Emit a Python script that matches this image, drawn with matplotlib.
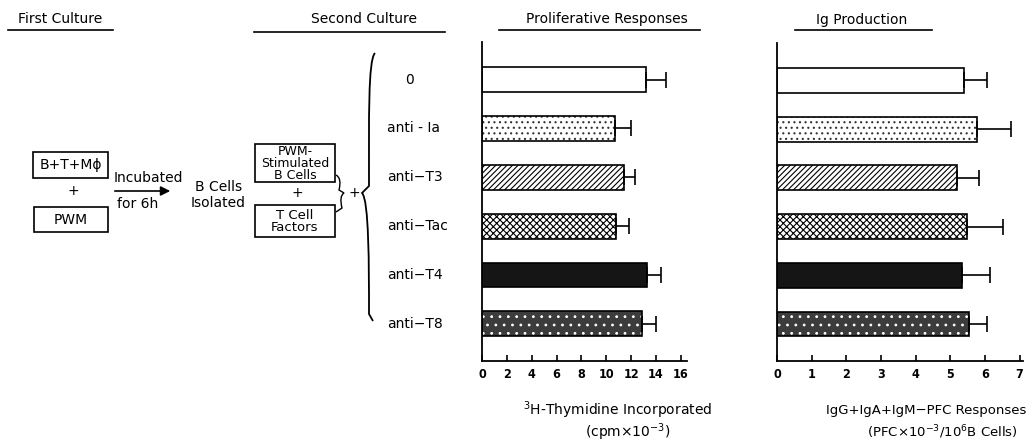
import matplotlib.pyplot as plt
from matplotlib.patches import Rectangle, PathPatch
from matplotlib.path import Path

# data
treatments = ['0', 'anti-Ia', 'anti-T3', 'anti-Tac', 'anti-T4', 'anti-T8']
thymidine = [13.2, 10.7, 11.4, 10.8, 13.3, 12.9]
thymidine_err = [1.6, 1.3, 0.9, 1.0, 1.1, 1.1]
pfc = [5.41, 5.77, 5.20, 5.49, 5.33, 5.54]
pfc_err = [0.66, 0.99, 0.64, 1.03, 0.83, 0.53]
thy_ticks = [0, 2, 4, 6, 8, 10, 12, 14, 16]
pfc_ticks = [0, 1, 2, 3, 4, 5, 6, 7]

# (face, hatch, hatch colour) per treatment
styles = [('white', None, 'black'),
          ('white', '...', '#333333'),
          ('white', '//////', 'black'),
          ('white', 'xxxxx', 'black'),
          ('#151515', None, 'black'),
          ('#3c3c3c', '..', 'white')]

plt.rcParams['font.family'] = ['DejaVu Sans']
plt.rcParams['hatch.linewidth'] = 0.8

W, H = 1028, 444
fig = plt.figure(figsize=(W / 100, H / 100), dpi=100)

# ---- diagram layer, in pixel coordinates
dg = fig.add_axes([0, 0, 1, 1])
dg.set_xlim(0, W)
dg.set_ylim(H, 0)
dg.axis('off')

def txt(x, y, s, size=10, ha='center', **kw):
    dg.text(x, y, s, fontsize=size, ha=ha, va='center', **kw)

txt(60, 19, 'First Culture')
dg.plot([8, 113], [30, 30], color='black', lw=1.2)
txt(364, 19, 'Second Culture')
dg.plot([254, 445], [32, 32], color='black', lw=1.2)
txt(607, 19, 'Proliferative Responses')
dg.plot([499, 700], [30, 30], color='black', lw=1.2)
txt(862, 20, 'Ig Production')
dg.plot([795, 932], [30, 30], color='black', lw=1.2)

for (x0, y0, x1, y1) in [(33, 152, 108, 178), (34, 207, 108, 232),
                         (255, 144, 335, 182), (255, 205, 335, 237)]:
    dg.add_patch(Rectangle((x0, y0), x1 - x0, y1 - y0, fill=False,
                           ec='black', lw=1.2))
txt(71, 165, 'B+T+Mϕ')
txt(73, 191, '+')
txt(71, 220, 'PWM')
txt(148, 178, 'Incubated', ha='center')
dg.annotate('', xy=(173, 191), xytext=(112, 191),
            arrowprops=dict(arrowstyle='-|>', color='black', lw=1.2,
                            mutation_scale=14))
txt(138, 204, 'for 6h')
txt(219, 187, 'B Cells')
txt(218, 203, 'Isolated')
txt(295, 163, 'PWM-\nStimulated\nB Cells', size=9, linespacing=0.9)
txt(297, 193, '+')
txt(295, 221, 'T Cell\nFactors', size=9.5, linespacing=0.9)

# small brace
sb = Path([(336, 175), (342, 178), (339, 190), (344, 193),
           (339, 196), (342, 208), (336, 212)],
          [Path.MOVETO, Path.CURVE3, Path.CURVE3, Path.LINETO,
           Path.CURVE3, Path.CURVE3, Path.LINETO])
dg.add_patch(PathPatch(sb, fill=False, lw=1.0))
txt(354, 193, '+')
# big brace
bb = Path([(375, 53), (368, 60), (369, 120), (369, 186), (362, 193),
           (369, 200), (369, 266), (369, 314), (373, 321)],
          [Path.MOVETO, Path.CURVE4, Path.CURVE4, Path.CURVE4,
           Path.LINETO, Path.CURVE4, Path.CURVE4, Path.CURVE4,
           Path.LINETO])
dg.add_patch(PathPatch(bb, fill=False, lw=1.3))

txt(618, 410, '$^3$H-Thymidine Incorporated')
txt(628, 432, '(cpm×10$^{-3}$)')
dg.text(1026, 410, 'IgG+IgA+IgM−PFC Responses', fontsize=9.5, ha='right',
        va='center')
txt(942, 432, '(PFC×10$^{-3}$/10$^6$B Cells)', size=9.5)

# ---- bar panels
ax1 = fig.add_axes([482 / W, 1 - 361 / H, 205 / W, 319 / H])
ax2 = fig.add_axes([777 / W, 1 - 361 / H, 246 / W, 318 / H])

def panel(ax, vals, errs, ticks, xmax):
    ypos = range(len(vals))
    for i, (v, e, (face, hatch, hc)) in enumerate(zip(vals, errs, styles)):
        ax.barh(i, v, height=0.51, color=face, hatch=hatch, edgecolor=hc,
                linewidth=0, zorder=2)
        ax.barh(i, v, height=0.51, fill=False, edgecolor='black',
                linewidth=1.2, zorder=3)
    ax.errorbar(vals, list(ypos), xerr=[[0] * len(vals), errs], fmt='none',
                ecolor='black', elinewidth=1.2, capsize=6, capthick=1.2,
                zorder=3)
    ax.set_xlim(0, xmax)
    ax.set_ylim(5.76, -0.77)
    ax.set_yticks([])
    ax.set_xticks(ticks)
    ax.set_xticklabels([str(t) for t in ticks], fontsize=9, weight='bold',
                       fontstretch='condensed')
    ax.tick_params(axis='x', direction='in', length=4, width=1.2, pad=5)
    for s in ['top', 'right']:
        ax.spines[s].set_visible(False)
    for s in ['left', 'bottom']:
        ax.spines[s].set_linewidth(1.3)
    ax.patch.set_alpha(0)

panel(ax1, thymidine, thymidine_err, thy_ticks, 16.5)
panel(ax2, pfc, pfc_err, pfc_ticks, 7.1)

for i, name in enumerate(treatments):
    yy = 79.5 + i * 48.9
    if name == '0':
        txt(409, yy, name)
    else:
        txt(387, yy, name.replace('-', '−') if name != 'anti-Ia' else 'anti - Ia',
            ha='left')

fig.savefig('out.png', dpi=100)
